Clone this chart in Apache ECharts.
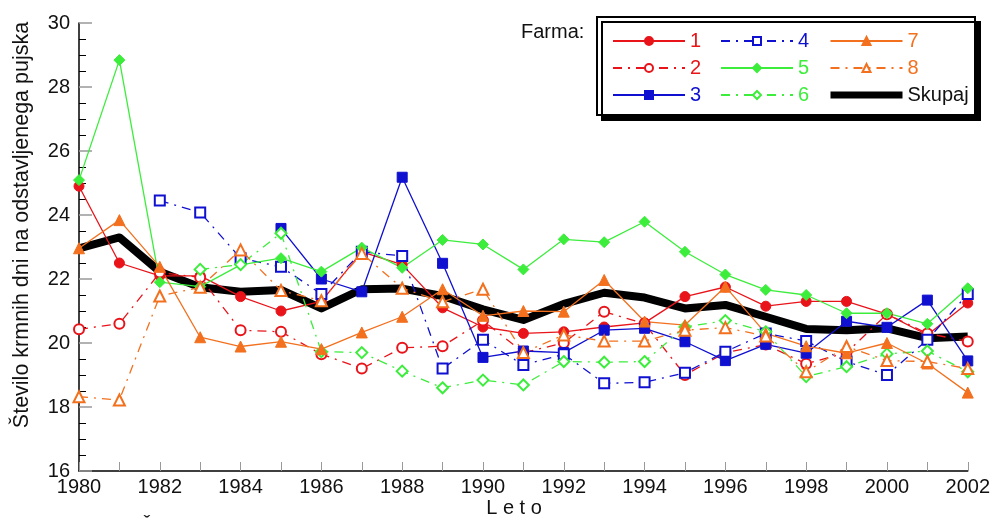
<!DOCTYPE html>
<html>
<head>
<meta charset="utf-8">
<script src="https://cdn.jsdelivr.net/npm/echarts@6/dist/echarts.min.js"></script>
<style>
html,body{margin:0;padding:0;background:#fff;overflow:hidden;}
#chart{width:993px;height:519px;}
</style>
</head>
<body>
<div id="chart"></div>
<script>
// Years on the x axis
const years = [1980,1981,1982,1983,1984,1985,1986,1987,1988,1989,1990,1991,1992,1993,1994,1995,1996,1997,1998,1999,2000,2001,2002];

// Feeding days per weaned piglet, by farm (null = no record for that year)
const farm1 = [24.9,22.5,22.1,22.1,21.45,21.0,21.3,22.85,22.45,21.1,20.5,20.3,20.35,20.5,20.63,21.45,21.75,21.15,21.3,21.3,20.9,20.25,21.25];
const farm2 = [20.43,20.6,22.2,22.05,20.4,20.35,19.65,19.2,19.85,19.9,20.7,19.7,20.0,20.98,20.6,19.0,19.7,19.95,19.35,19.7,20.9,20.3,20.05];
const farm3 = [null,null,null,null,null,23.58,22.0,21.6,25.18,22.49,19.55,19.75,19.7,20.4,20.46,20.04,19.45,19.96,19.68,20.68,20.49,21.34,19.44];
const farm4 = [null,null,24.45,24.08,22.65,22.38,21.53,22.85,22.72,19.2,20.1,19.31,19.65,18.74,18.77,19.07,19.73,20.3,20.06,19.42,19.0,20.1,21.53];
const farm5 = [25.09,28.84,21.9,21.76,22.44,22.65,22.23,22.98,22.35,23.22,23.08,22.3,23.24,23.15,23.79,22.85,22.14,21.66,21.5,20.93,20.93,20.6,21.71];
const farm6 = [null,null,null,22.3,22.45,23.43,19.73,19.7,19.12,18.6,18.84,18.69,19.42,19.4,19.42,20.5,20.7,20.35,18.95,19.26,19.66,19.75,19.1];
const farm7 = [22.96,23.84,22.38,20.18,19.89,20.04,19.81,20.33,20.82,21.68,20.85,21.0,20.98,21.97,20.67,20.56,21.76,20.3,19.9,19.68,20.0,19.36,18.45];
const farm8 = [18.32,18.22,21.47,21.74,22.91,21.64,21.32,22.8,21.71,21.29,21.68,19.7,20.25,20.06,20.06,20.4,20.48,20.22,19.1,19.89,19.45,19.42,19.2];
const total = [22.96,23.3,22.23,21.74,21.6,21.66,21.08,21.68,21.7,21.47,21.05,20.72,21.22,21.57,21.42,21.08,21.19,20.82,20.44,20.4,20.46,20.15,20.2];

const yTicks = [16,18,20,22,24,26,28,30];

const RED = '#e8141a', BLUE = '#1010d0', GREEN = '#3ced3c', ORANGE = '#f2701e';
const DASHDOT = [9,6,2,6];
const FONT = 'Liberation Sans, Arial, Helvetica, sans-serif';

function pairs(arr){ return years.map((y,i)=>[y, arr[i]]); }

function farmSeries(name, arr, color, symbol, dashed, size){
  return {
    name: name,
    type: 'line',
    data: pairs(arr),
    connectNulls: false,
    symbol: symbol,
    symbolSize: size,
    z: 3,
    lineStyle: {color: color, width: 1.3, type: dashed ? DASHDOT : 'solid'},
    itemStyle: {color: color, borderColor: color, borderWidth: 1},
    emphasis: {disabled: true},
    animation: false
  };
}

const series = [
  farmSeries('1', farm1, RED, 'circle', false, 10),
  farmSeries('2', farm2, RED, 'emptyCircle', true, 10),
  farmSeries('3', farm3, BLUE, 'rect', false, 10),
  farmSeries('4', farm4, BLUE, 'emptyRect', true, 10),
  farmSeries('5', farm5, GREEN, 'diamond', false, 11),
  farmSeries('6', farm6, GREEN, 'emptyDiamond', true, 11),
  farmSeries('7', farm7, ORANGE, 'triangle', false, 11),
  farmSeries('8', farm8, ORANGE, 'emptyTriangle', true, 11),
  {
    name: 'Skupaj', type: 'line', data: pairs(total), symbol: 'none', z: 2,
    lineStyle: {color: '#000', width: 8, join: 'round'},
    itemStyle: {color: '#000'},
    emphasis: {disabled: true}, animation: false
  }
];

function legendItem(name, color){
  const item = {name: name, textStyle: {color: color, fontSize: 20, fontFamily: FONT, lineHeight: 20}};
  if (name === 'Skupaj') {
    item.itemStyle = {opacity: 0};
    item.lineStyle = {width: 7, color: '#000'};
  }
  return item;
}

function legendCol(left, items, colors){
  return {
    orient: 'vertical', left: left, top: 31, padding: 0,
    itemWidth: 72, itemHeight: 10, itemGap: 7,
    selectedMode: false,
    data: items.map((n,i)=>legendItem(n, colors[i])),
    textStyle: {fontSize: 20, fontFamily: FONT}
  };
}

const chart = echarts.init(document.getElementById('chart'), null, {renderer: 'canvas'});
chart.setOption({
  backgroundColor: '#fff',
  animation: false,
  grid: {left: 79, right: 18, top: 23, bottom: 48, containLabel: false},
  xAxis: {
    type: 'value', min: 1980, max: 2002, interval: 1,
    axisLine: {lineStyle: {color: '#000', width: 1.5}},
    axisTick: {inside: true, length: 9, lineStyle: {color: '#999', width: 1}},
    axisLabel: {
      margin: 6, fontSize: 20, fontFamily: FONT, color: '#111',
      formatter: v => (v % 2 === 0 ? String(v) : '')
    },
    splitLine: {show: false}
  },
  yAxis: {
    type: 'value', min: 16, max: 30, interval: 2,
    axisLine: {show: true, lineStyle: {color: '#000', width: 1.5}},
    axisTick: {show: true, inside: true, length: 13, lineStyle: {color: '#999', width: 1.5}},
    minorTick: {show: true, splitNumber: 4, length: 7, lineStyle: {color: '#000', width: 1}},
    axisLabel: {margin: 9, fontSize: 20, fontFamily: FONT, color: '#111',
      formatter: v => (yTicks.indexOf(v) >= 0 ? String(v) : '')},
    splitLine: {show: false}
  },
  legend: [
    legendCol(612, ['1','2','3'], [RED, RED, BLUE]),
    legendCol(720, ['4','5','6'], [BLUE, GREEN, GREEN]),
    legendCol(827, ['7','8','Skupaj'], [ORANGE, ORANGE, '#111'])
  ],
  graphic: [
    {
      type: 'rect', z: 0, zlevel: 0,
      shape: {x: 597, y: 17, width: 378, height: 98},
      style: {fill: '#fff', stroke: '#000', lineWidth: 2,
        shadowColor: '#000', shadowOffsetX: 5, shadowOffsetY: 5, shadowBlur: 0}
    },
    {
      type: 'text', left: 521, top: 22, z: 5,
      style: {text: 'Farma:', fontSize: 20, fontFamily: FONT, fill: '#111'}
    },
    {
      type: 'text', x: 11, y: 225, rotation: Math.PI / 2, z: 5,
      style: {text: 'Število krmnih dni na odstavljenega pujska', fontSize: 21.5, fontFamily: FONT,
        fill: '#111', align: 'center', verticalAlign: 'top'}
    },
    {
      type: 'text', x: 514, y: 498, z: 5,
      style: {text: 'L e t o', fontSize: 20, fontFamily: FONT, fill: '#111', align: 'center', verticalAlign: 'top'}
    },
    {
      type: 'text', x: 140, y: 517, z: 5,
      style: {text: 'Š', fontSize: 20, fontFamily: FONT, fill: '#111', verticalAlign: 'top'}
    }
  ],
  series: series
});
</script>
</body>
</html>
